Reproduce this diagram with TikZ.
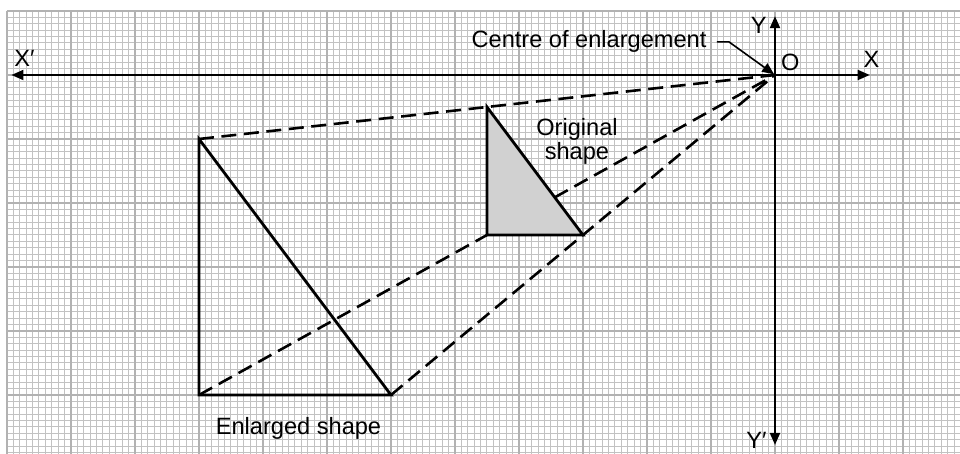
\documentclass[tikz,border=0pt]{standalone}
\usepackage{fontspec}
\setmainfont{Liberation Sans}
\usetikzlibrary{arrows.meta,positioning}

\begin{document}
\begin{tikzpicture}[x=3.2pt, y=3.2pt, >={Triangle[length=6pt,width=5pt]},
	   font=\fontsize{11.8}{12}\selectfont,
	   mg/.style={draw=black!24, line width=0.5pt},
	   Mg/.style={draw=black!30, line width=1.1pt},
	   ax/.style={line width=1pt},
	   sl/.style={line width=1.4pt, line join=miter},
	   dl/.style={line width=1.3pt, dash pattern=on 7.5pt off 3.8pt},
	   lb/.style={inner sep=0pt}]
	  \useasboundingbox (-121.094,-59.219) rectangle (28.906,11.719);
	  % graph paper
	  \draw[mg, step=1] (-120,-59.219) grid (28.906,10);
	  \draw[Mg, step=10] (-120,-59.219) grid (28.906,10);
	  % axes
	  \coordinate (O) at (0,0);
	  \coordinate (xl) at (-119.3,0);
	  \coordinate (xr) at (14.8,0);
	  \coordinate (yt) at (0,9.2);
	  \coordinate (yb) at (0,-57.8);
	  \draw[ax, <->] (xl) -- (xr);
	  \draw[ax, <->] (yb) -- (yt);
	  % vertices
	  \coordinate (a1) at (-45,-5);
	  \coordinate (b1) at (-45,-25);
	  \coordinate (c1) at (-30,-25);
	  \coordinate (a2) at (-90,-10);
	  \coordinate (b2) at (-90,-50);
	  \coordinate (c2) at (-60,-50);
	  \draw[dl] (a2) -- (O) (b2) -- (O) (c2) -- (O);
	  \draw[sl, fill=black!18] (a1) -- (b1) -- (c1) -- cycle;
	  \draw[sl] (a2) -- (b2) -- (c2) -- cycle;
	  % labels
	  \node[lb, anchor=base west] (lxp) at (-118.9,1.25) {X′};
	  \node[lb, anchor=base west] (lx) at (13.8,1.1) {X};
	  \node[lb, anchor=base east] (ly) at (-1.25,6.5) {Y};
	  \node[lb, anchor=base east] (lyp) at (-1.25,-58.3) {Y′};
	  \node[lb, anchor=base west] (lo) at (0.9,0.75) {O};
	  \node[anchor=base, inner xsep=5pt, inner ysep=1pt] (lc) at (-29.06,4.22) {Centre of enlargement};
	  \draw[line width=0.8pt, ->, shorten >=0.5pt] (lc.east) -- ++(1.9,0) coordinate (cb) -- (O);
	  \node[align=center, inner sep=0pt] (lorig) at (-30.94,-10.45) {Original\\shape};
	  \node[lb, anchor=base] (lenl) at (-74.45,-56.25) {Enlarged shape};
	\end{tikzpicture}
\end{document}
